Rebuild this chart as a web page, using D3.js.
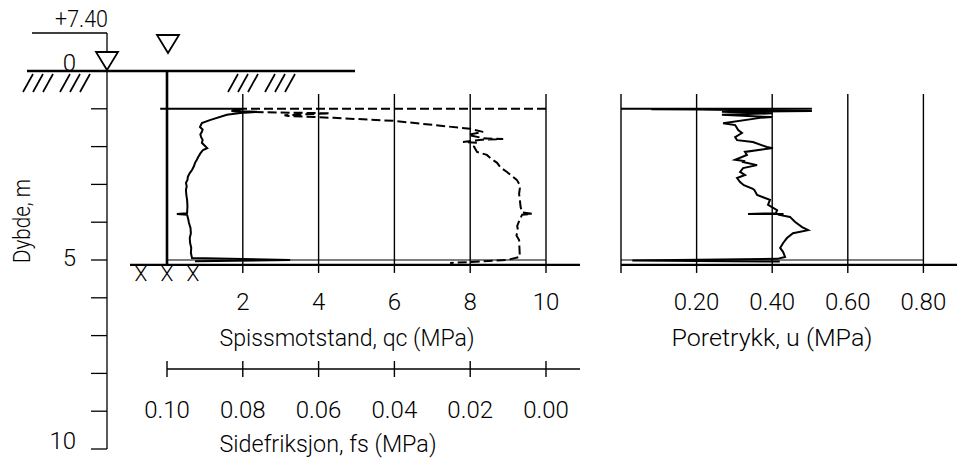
<!DOCTYPE html>
<html><head><meta charset="utf-8">
<script src="https://cdn.jsdelivr.net/npm/d3@7"></script>
<style>
body{margin:0;background:#fff;}
svg text{font-family:Roboto,"DejaVu Sans",sans-serif;font-weight:300;fill:#000;}
</style></head><body>
<svg id="c" width="957" height="468"></svg>
<script>
// ---------- data ----------
const depthTickValues = [1,2,3,4,5,6,7,8,9,10];
const depthLabelValues = [0,5,10];
const qcTickValues = [2,4,6,8,10];
const fsTickValues = [0.10,0.08,0.06,0.04,0.02,0.00];
const uGridValues = [0,0.2,0.4,0.6,0.8];
const uLabelValues = [0.2,0.4,0.6,0.8];
const groundLevel = "+7.40";

// Spissmotstand qc (MPa), dashed
const qcDepth = [1.00,1.00,1.06,1.08,1.12,1.17,1.19,1.24,1.32,1.53,1.61,1.69,1.78,1.80,1.82,1.88,1.90,2.00,2.14,2.22,2.32,2.43,2.55,2.67,2.78,2.88,3.00,3.10,3.25,3.41,3.60,3.74,3.78,3.80,3.95,4.10,4.21,4.35,4.47,4.70,4.92,5.00,5.08];
const qcValue = [10.0,2.0,1.7,2.0,4.3,3.1,3.2,4.4,6.0,8.0,8.34,7.95,8.35,8.87,8.3,7.81,8.18,8.10,8.18,8.44,8.55,8.71,8.80,8.97,9.10,9.23,9.30,9.31,9.29,9.31,9.33,9.37,9.63,9.37,9.30,9.24,9.26,9.22,9.29,9.30,9.31,8.97,7.47];

// Sidefriksjon fs (MPa), solid
const fsDepth = [1.00,1.00,1.06,1.08,1.11,1.16,1.30,1.38,1.48,1.55,1.61,1.68,1.75,1.82,1.90,2.04,2.09,2.18,2.28,2.36,2.43,2.52,2.62,2.70,2.80,2.88,2.96,3.05,3.15,3.28,3.41,3.58,3.76,3.78,3.80,3.92,4.02,4.15,4.29,4.42,4.55,4.68,4.81,4.95,5.00,5.03];
const fsValue = [0.1018,0.0800,0.0828,0.0763,0.0807,0.0842,0.0887,0.0908,0.0913,0.0906,0.0908,0.0912,0.0910,0.0906,0.0908,0.0894,0.0905,0.0912,0.0918,0.0922,0.0926,0.0929,0.0934,0.0940,0.0945,0.0946,0.0950,0.0948,0.0950,0.0949,0.0947,0.0946,0.0947,0.0974,0.0947,0.0944,0.0942,0.0938,0.0937,0.0940,0.0939,0.0936,0.0937,0.0934,0.0675,0.0926];

// Poretrykk u (MPa), solid
const uDepth = [1.00,1.00,1.01,1.02,1.06,1.08,1.12,1.16,1.22,1.24,1.38,1.43,1.56,1.64,1.75,1.83,1.88,2.01,2.04,2.14,2.22,2.35,2.38,2.41,2.49,2.57,2.67,2.75,2.83,2.94,3.02,3.12,3.15,3.28,3.41,3.54,3.68,3.76,3.78,3.78,3.80,3.86,3.99,4.13,4.21,4.29,4.42,4.55,4.68,4.79,4.92,4.97,5.01,5.04];
const uValue = [0.0,0.505,0.08,0.205,0.505,0.267,0.40,0.267,0.399,0.368,0.270,0.302,0.310,0.320,0.302,0.307,0.349,0.386,0.402,0.328,0.333,0.302,0.325,0.323,0.360,0.323,0.315,0.328,0.307,0.315,0.325,0.349,0.353,0.360,0.394,0.389,0.413,0.41,0.336,0.43,0.415,0.447,0.460,0.479,0.495,0.455,0.439,0.429,0.421,0.429,0.434,0.413,0.03,0.42];

// ---------- scales ----------
const svg = d3.select("#c");
const y = d3.scaleLinear().domain([0,10]).range([71,449]);
const xqc = d3.scaleLinear().domain([0,10]).range([167,546]);
const xfs = d3.scaleLinear().domain([0.10,0.00]).range([167,546]);
const xu = d3.scaleLinear().domain([0,0.8]).range([621,923.4]);
const axisDepth = 5.13, endDepth = 5.0;
const gridTop = 94, tickBottom = y(axisDepth)+8;

const ln = (x1,y1,x2,y2,w) => svg.append("line").attr("x1",x1).attr("y1",y1).attr("x2",x2).attr("y2",y2)
  .attr("stroke","#000").attr("stroke-width",w||1.3);
const txt = (x,yy,s,size,anchor,len) => {
  const t = svg.append("text").attr("x",x).attr("y",yy).attr("font-size",size)
    .attr("text-anchor",anchor||"middle").text(s);
  if(len) t.attr("textLength",len).attr("lengthAdjust","spacingAndGlyphs");
  return t;
};
const FS = 24;

// ---------- depth axis ----------
ln(107,y(0),107,y(10),1.3);
depthTickValues.forEach(d=>ln(91,y(d),107,y(d),1.3));
depthLabelValues.forEach(d=>txt(76,y(d)+(d===5?6:0),String(d),FS,"end"));
svg.append("text").attr("transform",`translate(30,${221}) rotate(-90)`).attr("font-size",FS)
  .attr("text-anchor","middle").attr("textLength",84).attr("lengthAdjust","spacingAndGlyphs").text("Dybde, m");

// ---------- ground ----------
ln(27,y(0),355,y(0),2.6);
function hatch(x0){
  [0,10,20,37,47,57].forEach(o=>ln(x0+o,y(0)+21,x0+o+10,y(0)+3,1.7));
}
hatch(23); hatch(228);
// elevation marker
ln(32,33,107,33,1.3); ln(107,33,107,52,1.3);
function tri(cx,tipY){
  svg.append("path").attr("d",`M${cx-11},${tipY-18}L${cx+11},${tipY-18}L${cx},${tipY}Z`)
    .attr("fill","none").attr("stroke","#000").attr("stroke-width",1.8);
}
tri(107,y(0)-1); tri(168,53);
txt(108,27,groundLevel,FS,"end",53);

// rod
ln(167,y(0),167,y(axisDepth),2.6);
[141,167,193].forEach(x=>txt(x,281,"X",21,"middle"));

// ---------- qc / fs panel ----------
qcTickValues.forEach(v=>ln(xqc(v),gridTop,xqc(v),tickBottom,1.4));
ln(130,y(axisDepth),580,y(axisDepth),2.2);
ln(xqc(0),y(endDepth),xqc(10),y(endDepth),1.2);
qcTickValues.forEach(v=>txt(xqc(v),310,String(v),FS));
txt(347,346,"Spissmotstand, qc (MPa)",FS,"middle",255);

// fs axis
const fsY = 369;
ln(xfs(0.10),fsY,580,fsY,1.4);
fsTickValues.forEach(v=>ln(xfs(v),fsY-8,xfs(v),fsY+8,1.4));
fsTickValues.forEach(v=>txt(xfs(v),418,v.toFixed(2),FS));
txt(328,452,"Sidefriksjon, fs (MPa)",FS,"middle",217);

// curves
const qcLine = d3.line().x((d,i)=>xqc(qcValue[i])).y(d=>y(d));
svg.append("path").attr("d",qcLine(qcDepth)).attr("fill","none").attr("stroke","#000")
  .attr("stroke-width",2).attr("stroke-dasharray","9,4");
const fsLine = d3.line().x((d,i)=>xfs(fsValue[i])).y(d=>y(d));
svg.append("path").attr("d",fsLine(fsDepth)).attr("fill","none").attr("stroke","#000").attr("stroke-width",2);

// ---------- u panel ----------
uGridValues.forEach(v=>ln(xu(v),gridTop,xu(v),tickBottom,1.4));
ln(xu(0),y(axisDepth),957,y(axisDepth),2.2);
ln(xu(0),y(endDepth),xu(0.8),y(endDepth),1.2);
uLabelValues.forEach(v=>txt(xu(v),310,v.toFixed(2),FS));
txt(772,346,"Poretrykk, u (MPa)",FS,"middle",201);
const uLine = d3.line().x((d,i)=>xu(uValue[i])).y(d=>y(d));
svg.append("path").attr("d",uLine(uDepth)).attr("fill","none").attr("stroke","#000").attr("stroke-width",2);
</script>
</body></html>
